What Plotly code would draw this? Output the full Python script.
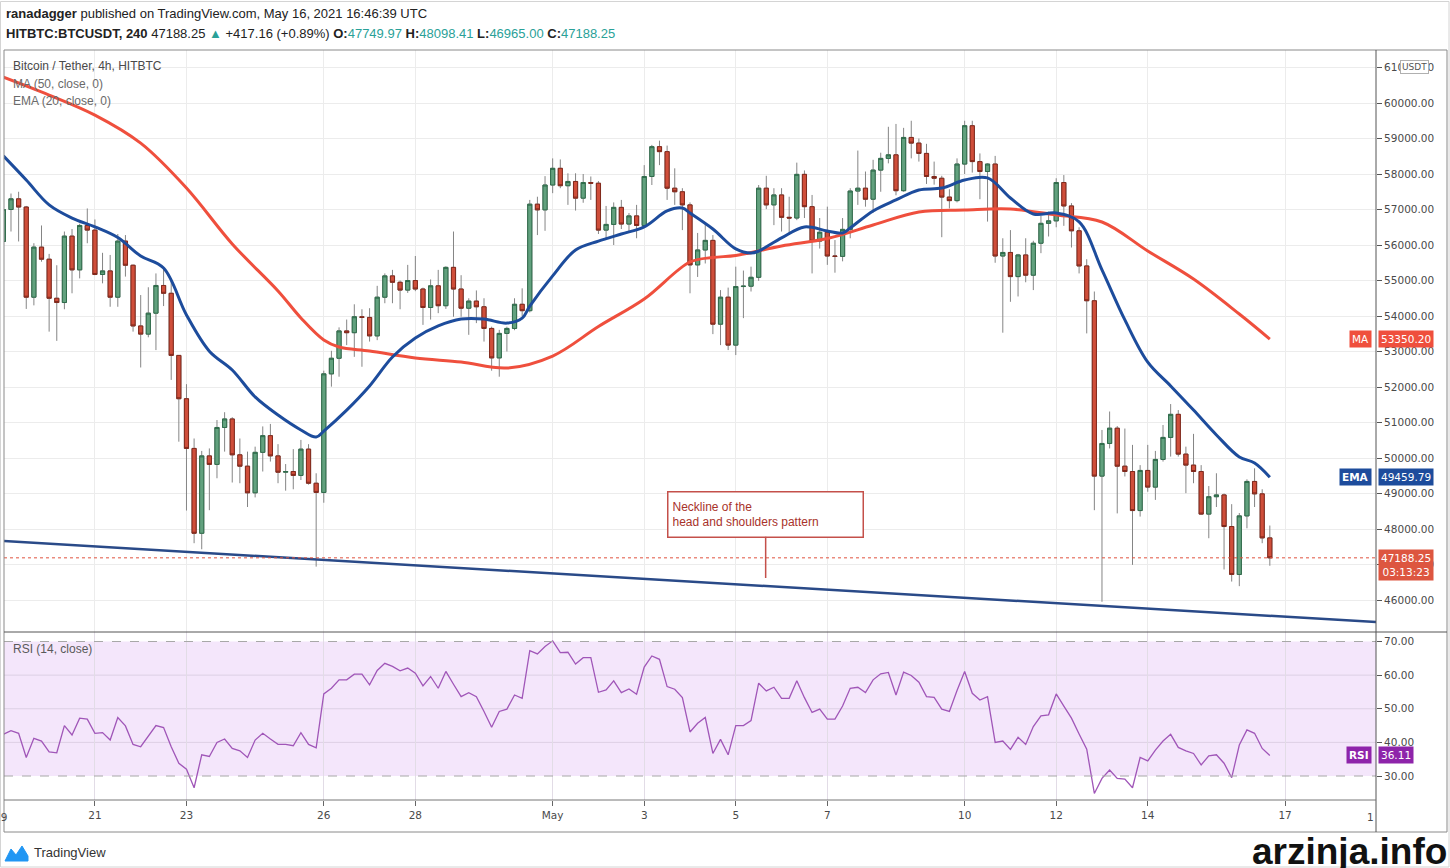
import pandas as pd
import plotly.graph_objects as go

# 4h candles of HITBTC:BTCUSDT, first candle 19 Apr 2021 00:00 UTC
first_candle = "2021-04-19 00:00"

opens = [56100, 57000, 57300, 57070, 54530, 55940, 55600, 54500, 54380, 56250,
         55300, 56550, 56420, 55170, 55270, 54530, 56110, 55430, 53720, 53490,
         54080, 54860, 54640, 52890, 51670, 50270, 47880, 50060, 49820, 50860,
         51100, 50090, 49770, 49020, 50160, 50630, 50060, 49600, 49620, 49510,
         50250, 49290, 49030, 52370, 52810, 53580, 53530, 53980, 53960, 53440,
         54530, 55130, 54950, 54730, 55000, 54760, 54240, 54850, 54290, 55370,
         54760, 54220, 54420, 54260, 53650, 52820, 53510, 53650, 54330, 54150,
         57150, 56990, 57690, 58160, 57670, 57790, 57320, 57760, 57740, 56420,
         56580, 57060, 56590, 56820, 56550, 57930, 58770, 58630, 57600, 57500,
         57130, 55440, 55860, 56130, 53770, 54530, 53180, 54830, 54840, 55090,
         57600, 57130, 57410, 56780, 56760, 57990, 57080, 56110, 56360, 55690,
         55680, 56440, 57520, 57600, 57290, 58110, 58440, 58540, 57530, 59030,
         58870, 58580, 57930, 57880, 57350, 57250, 58280, 59360, 58350, 58070,
         58280, 55690, 55790, 55110, 55720, 55150, 56050, 56610, 56680, 57760,
         57100, 56400, 55410, 54430, 49490, 50410, 50840, 49770, 49620, 48520,
         49650, 49180, 49960, 50580, 51230, 50110, 49800, 49620, 48420, 48910,
         48960, 48070, 46720, 48370, 49340, 48990, 47749.97]

highs = [57300, 57450, 57500, 57100, 56050, 56550, 55750, 55430, 56380, 56450,
         56600, 57030, 56720, 55780, 55720, 56310, 56280, 55450, 54590, 54810,
         55200, 55340, 55070, 52900, 52080, 50550, 50200, 50270, 51070, 51290,
         51150, 50550, 50180, 50320, 50890, 50960, 50390, 49830, 50250, 50510,
         50390, 49570, 52460, 53020, 53680, 53900, 54330, 54190, 54220, 54850,
         55200, 55300, 55000, 55440, 55690, 54800, 55030, 55300, 55400, 56380,
         55150, 54500, 54720, 54500, 53700, 53610, 53700, 54500, 54780, 57270,
         57360, 57940, 58440, 58410, 58020, 58020, 58000, 57930, 57800, 57100,
         57200, 57270, 56900, 57130, 58250, 58820, 58940, 58800, 58160, 57600,
         57200, 56340, 56610, 56280, 54730, 54800, 55390, 55280, 55390, 57690,
         57950, 57600, 57600, 57360, 58320, 58100, 57410, 56760, 57080, 56140,
         56760, 57600, 58660, 58070, 58400, 58600, 59330, 59410, 59300, 59500,
         59000, 58850, 58350, 57950, 57570, 58440, 59500, 59500, 58580, 58300,
         58510, 56190, 56420, 55750, 56190, 56120, 56820, 56940, 57880, 57970,
         57180, 56500, 55600, 54690, 50790, 51310, 50900, 50830, 50370, 49800,
         50370, 50200, 50930, 51520, 51350, 50320, 50680, 49800, 49210, 49570,
         49000, 48700, 48450, 49400, 49710, 49120, 48098.41]

lows = [55600, 56380, 56100, 54200, 54300, 55530, 53560, 53300, 54190, 54640,
        55060, 56050, 55150, 54920, 54260, 54260, 55110, 53560, 52550, 53400,
        53040, 54280, 52200, 50460, 48520, 47600, 47430, 48530, 49430, 50180,
        49310, 49290, 48620, 48890, 49620, 49900, 49290, 49080, 49120, 49380,
        49250, 46940, 48740, 52010, 52290, 53180, 52850, 52570, 53280, 53320,
        54360, 54360, 54190, 54650, 54700, 53750, 53900, 54080, 54200, 53980,
        53980, 53470, 53800, 53280, 52460, 52290, 53000, 53600, 54000, 54100,
        56280, 56400, 57460, 57600, 57130, 56970, 57190, 57270, 56310, 56190,
        56000, 56450, 56380, 56190, 56500, 57690, 58250, 57270, 57130, 56420,
        54640, 55100, 55480, 53490, 53180, 53040, 52900, 53940, 54690, 54990,
        57010, 56560, 56380, 56330, 56700, 56760, 55200, 55900, 55440, 55220,
        55540, 56190, 57130, 57080, 56910, 57500, 58300, 57400, 57500, 58440,
        58350, 57720, 57700, 56220, 57030, 57200, 58000, 58040, 57290, 56660,
        55500, 53530, 54400, 54550, 54950, 54730, 55770, 56240, 56500, 56540,
        55930, 55200, 53510, 48530, 45950, 50270, 48440, 49480, 46990, 48350,
        49050, 48820, 49900, 50040, 50040, 49010, 49290, 48400, 47740, 48620,
        46860, 46520, 46390, 48020, 48620, 47600, 46965.00]

closes = [57000, 57300, 57070, 54530, 55940, 55600, 54500, 54380, 56250, 55300,
          56550, 56420, 55170, 55270, 54530, 56110, 55430, 53720, 53490, 54080,
          54860, 54640, 52890, 51670, 50270, 47880, 50060, 49820, 50860, 51100,
          50090, 49770, 49020, 50160, 50630, 50060, 49600, 49620, 49510, 50250,
          49290, 49030, 52370, 52810, 53580, 53530, 53980, 53960, 53440, 54530,
          55130, 54950, 54730, 55000, 54760, 54240, 54850, 54290, 55370, 54760,
          54220, 54420, 54260, 53650, 52820, 53510, 53650, 54330, 54150, 57150,
          56990, 57690, 58160, 57670, 57790, 57320, 57760, 57740, 56420, 56580,
          57060, 56590, 56820, 56550, 57930, 58770, 58630, 57600, 57500, 57130,
          55440, 55860, 56130, 53770, 54530, 53180, 54830, 54840, 55090, 57600,
          57130, 57410, 56780, 56760, 57990, 57080, 56110, 56360, 55690, 55680,
          56440, 57520, 57600, 57290, 58110, 58440, 58540, 57530, 59030, 58870,
          58580, 57930, 57880, 57350, 57250, 58280, 59360, 58350, 58070, 58280,
          55690, 55790, 55110, 55720, 55150, 56050, 56610, 56680, 57760, 57100,
          56400, 55410, 54430, 49490, 50410, 50840, 49770, 49620, 48520, 49650,
          49180, 49960, 50580, 51230, 50110, 49800, 49620, 48420, 48910, 48960,
          48070, 46720, 48370, 49340, 48990, 47750, 47188.25]

# RSI(14, close), one value per candle
rsi = [42.4, 43.5, 42.7, 35.5, 41.2, 40.4, 37.2, 36.9, 45.0, 42.2,
       47.2, 46.9, 42.7, 42.9, 40.7, 47.4, 44.9, 39.4, 38.7, 41.9,
       45.0, 44.4, 38.7, 33.8, 32.0, 26.5, 36.3, 35.8, 40.0, 41.0,
       38.2, 37.5, 35.5, 40.7, 42.7, 41.0, 39.4, 39.4, 39.0, 42.9,
       39.4, 38.4, 54.4, 56.1, 58.6, 58.6, 60.3, 60.3, 57.1, 61.4,
       63.5, 62.6, 61.3, 62.1, 60.6, 56.8, 59.6, 56.1, 61.1, 57.3,
       53.6, 54.8, 53.6, 49.2, 44.5, 49.2, 49.9, 54.1, 53.1, 67.3,
       66.3, 68.5, 70.2, 66.7, 66.8, 63.3, 65.2, 65.2, 54.9, 55.6,
       58.3, 54.8, 55.9, 54.3, 62.4, 65.7, 64.7, 56.6, 55.8, 53.3,
       43.1, 45.7, 47.4, 36.7, 40.9, 36.3, 45.0, 45.0, 46.5, 57.6,
       55.3, 56.4, 53.1, 53.1, 58.3, 53.3, 48.9, 49.9, 46.9, 46.9,
       50.8, 56.1, 56.4, 54.8, 58.6, 60.4, 60.8, 54.1, 60.9, 59.9,
       57.9, 53.6, 53.4, 49.9, 49.2, 55.4, 61.1, 54.6, 52.6, 53.6,
       40.0, 40.4, 37.9, 41.5, 39.4, 44.7, 47.9, 48.2, 54.4, 50.8,
       47.2, 42.5, 38.0, 24.8, 29.3, 31.8, 29.3, 29.1, 26.5, 35.5,
       34.5, 37.7, 40.4, 42.4, 38.5, 37.5, 36.7, 33.3, 36.0, 36.3,
       33.8, 29.5, 39.2, 43.7, 42.7, 38.2, 36.11]

# MA(50) and EMA(20) at these candle numbers
ma_idx = [0, 6, 12, 18, 24, 30, 36, 39, 42, 44, 48, 54, 60, 66, 72, 78, 84, 90,
          93, 96, 102, 108, 114, 120, 126, 132, 138, 144, 150, 156, 162, 166]
ma_vals = [60730, 60225, 59660, 58870, 57605, 56030, 54705, 53945, 53325, 53127,
           53014, 52817, 52704, 52535, 52873, 53704, 54479, 55521, 55648, 55704,
           55972, 56183, 56563, 56930, 56986, 57014, 56845, 56648, 55831, 55042,
           54056, 53350.20]

ema_idx = [0, 3, 6, 9, 12, 15, 18, 21, 24, 27, 30, 33, 36, 39, 41, 42, 45, 48,
           51, 54, 57, 60, 63, 66, 68, 69, 72, 75, 78, 81, 84, 87, 89, 90, 93,
           96, 98, 99, 102, 105, 108, 110, 111, 114, 117, 120, 123, 126, 129,
           132, 135, 138, 141, 144, 147, 150, 153, 156, 159, 162, 164, 166]
ema_vals = [58510, 57830, 57130, 56760, 56510, 56210, 55690, 55350, 54030, 53010,
            52480, 51720, 51210, 50790, 50590, 50760, 51350, 52030, 52845, 53380,
            53720, 53915, 53915, 53800, 53940, 54280, 55130, 55860, 56110, 56310,
            56510, 56960, 57040, 56900, 56450, 55890, 55775, 55830, 56200, 56510,
            56395, 56340, 56480, 56960, 57270, 57550, 57605, 57830, 57890, 57325,
            56875, 56900, 56650, 55300, 53890, 52700, 52030, 51350, 50650, 50030,
            49860, 49459.79]

# hand-drawn neckline and its note
neck_dates = ["2021-04-19 00:20", "2021-05-18 23:40"]
neck_prices = [47660, 45380]
note_date = "2021-05-05 15:40"
note_price = 46620

tick_dates = ["2021-04-21", "2021-04-23", "2021-04-26", "2021-04-28", "2021-05-01",
              "2021-05-03", "2021-05-05", "2021-05-07", "2021-05-10", "2021-05-12",
              "2021-05-14", "2021-05-17"]
tick_labels = ["21", "23", "26", "28", "May", "3", "5", "7", "10", "12", "14", "17"]
price_ticks = list(range(46000, 61001, 1000))
rsi_ticks = [30, 40, 50, 60, 70]

times = pd.date_range(first_candle, periods=len(closes), freq="4h")

W, H = 1450, 868
def px(x):
    return x / W
def py(y):
    return 1 - y / H

x_range = ["2021-04-19 00:20", "2021-05-18 23:40"]
up_fill, up_line = "#62a17e", "#2f6c4b"
down_fill, down_line = "#cf4e3a", "#82291c"
wick = "#858585"
axis_font = dict(family="DejaVu Sans", size=10.5, color="#4a4a4a")

fig = go.Figure()

# wicks in grey, then the bodies again with a darker outline
fig.add_trace(go.Candlestick(
    x=times, open=opens, high=highs, low=lows, close=closes,
    increasing=dict(fillcolor=up_fill, line=dict(color=wick, width=1)),
    decreasing=dict(fillcolor=down_fill, line=dict(color=wick, width=1)),
    whiskerwidth=0, hoverinfo="skip"))
body_top = [max(o, c) for o, c in zip(opens, closes)]
body_bot = [min(o, c) for o, c in zip(opens, closes)]
fig.add_trace(go.Candlestick(
    x=times, open=opens, high=body_top, low=body_bot, close=closes,
    increasing=dict(fillcolor=up_fill, line=dict(color=up_line, width=1)),
    decreasing=dict(fillcolor=down_fill, line=dict(color=down_line, width=1)),
    whiskerwidth=0, name="BTCUSDT"))

fig.add_trace(go.Scatter(x=[times[i] for i in ma_idx], y=ma_vals, mode="lines",
                         line=dict(color="#ef4f3d", width=3, shape="spline"), name="MA"))
fig.add_trace(go.Scatter(x=[times[i] for i in ema_idx], y=ema_vals, mode="lines",
                         line=dict(color="#1d4c9c", width=3, shape="spline"), name="EMA"))
fig.add_trace(go.Scatter(x=neck_dates, y=neck_prices, mode="lines",
                         line=dict(color="#2a4a88", width=2.5), name="neckline"))

fig.add_trace(go.Scatter(x=times, y=rsi, mode="lines", xaxis="x2", yaxis="y2",
                         line=dict(color="#a056b8", width=1.3), name="RSI"))

shapes = []
# RSI band and its levels
shapes.append(dict(type="rect", xref="paper", yref="y2", x0=px(4), x1=px(1376), y0=30, y1=70,
                   fillcolor="#f4e6fb", line=dict(width=0), layer="below"))
for lvl in [40, 50, 60]:
    shapes.append(dict(type="line", xref="paper", yref="y2", x0=px(4), x1=px(1376), y0=lvl, y1=lvl,
                       line=dict(color="#ddd0e4", width=1), layer="below"))
for lvl in [30, 70]:
    shapes.append(dict(type="line", xref="paper", yref="y2", x0=px(4), x1=px(1376), y0=lvl, y1=lvl,
                       line=dict(color="#a8a8a8", width=1, dash="dash")))
# last price dotted line
shapes.append(dict(type="line", xref="paper", yref="y", x0=px(4), x1=px(1376),
                   y0=closes[-1], y1=closes[-1], line=dict(color="#e0533f", width=1, dash="dot")))
# frame
shapes.append(dict(type="rect", xref="paper", yref="paper", x0=px(4), x1=px(1447), y0=py(832), y1=py(50),
                   line=dict(color="#8a8a8a", width=1)))
shapes.append(dict(type="line", xref="paper", yref="paper", x0=px(1376), x1=px(1376), y0=py(832), y1=py(50),
                   line=dict(color="#555555", width=1)))
shapes.append(dict(type="line", xref="paper", yref="paper", x0=px(4), x1=px(1447), y0=py(632), y1=py(632),
                   line=dict(color="#555555", width=1)))
shapes.append(dict(type="line", xref="paper", yref="paper", x0=px(4), x1=px(1376), y0=py(800), y1=py(800),
                   line=dict(color="#777777", width=1)))
shapes.append(dict(type="rect", xref="paper", yref="paper", x0=px(0.5), x1=px(1449), y0=py(867), y1=py(1.5),
                   line=dict(color="#d4d4d4", width=1)))
# TradingView logo mark
logo = [(5, 861), (11, 849), (16, 855), (22, 846), (28, 856), (28, 861)]
path = "M " + " L ".join(f"{px(a):.5f},{py(b):.5f}" for a, b in logo) + " Z"
shapes.append(dict(type="path", xref="paper", yref="paper", path=path,
                   fillcolor="#2196f3", line=dict(color="#2196f3", width=1)))

teal = "#2aa198"
annotations = [
    dict(x=px(4), y=py(14), text="<b>ranadagger</b> published on TradingView.com, May 16, 2021 16:46:39 UTC",
         font=dict(family="Liberation Sans", size=13, color="#222")),
    dict(x=px(4), y=py(33),
         text=("<b>HITBTC:BTCUSDT, 240</b> 47188.25 <span style='color:%s'>▲</span> +417.16 (+0.89%%) "
               "<b>O:</b><span style='color:%s'>47749.97</span> <b>H:</b><span style='color:%s'>48098.41</span> "
               "<b>L:</b><span style='color:%s'>46965.00</span> <b>C:</b><span style='color:%s'>47188.25</span>")
              % (teal, teal, teal, teal, teal),
         font=dict(family="Liberation Sans", size=13, color="#222")),
    dict(x=px(11), y=py(66), text="Bitcoin / Tether, 4h, HITBTC",
         font=dict(family="Liberation Sans", size=12, color="#4a4a4a")),
    dict(x=px(11), y=py(84), text="MA (50, close, 0)",
         font=dict(family="Liberation Sans", size=12, color="#6a6a6a")),
    dict(x=px(11), y=py(101), text="EMA (20, close, 0)",
         font=dict(family="Liberation Sans", size=12, color="#6a6a6a")),
    dict(x=px(11), y=py(649), text="RSI (14, close)",
         font=dict(family="Liberation Sans", size=12, color="#5a5a5a")),
    dict(x=px(32), y=py(852), text="TradingView",
         font=dict(family="Liberation Sans", size=13, color="#333")),
    dict(x=px(1349), y=py(851), xanchor="center", text="<b>arzinja.info</b>",
         font=dict(family="Liberation Sans", size=37, color="#111")),
    dict(x=px(1414), y=py(67), xanchor="center", text="USDT", bgcolor="white",
         bordercolor="#b0b0b0", borderwidth=1, borderpad=1,
         font=dict(family="DejaVu Sans", size=9, color="#555")),
    # day labels cut by the panel edges
    dict(x=px(0), y=py(817), xanchor="center", text="19", font=axis_font),
    dict(x=px(1376), y=py(817), xanchor="right", text="1", font=axis_font),
]
for a in annotations:
    a.setdefault("xref", "paper")
    a.setdefault("yref", "paper")
    a.setdefault("xanchor", "left")
    a.setdefault("yanchor", "middle")
    a["showarrow"] = False

# value tags on the right scale
def tag(yref, value, text, color, x, anchor, yanchor="middle", yshift=0):
    return dict(xref="paper", yref=yref, x=px(x), y=value, text=text, xanchor=anchor,
                yanchor=yanchor, yshift=yshift, showarrow=False, bgcolor=color, borderpad=2,
                font=dict(family="DejaVu Sans", size=10.5, color="white"))

annotations += [
    tag("y", ma_vals[-1], "MA", "#ef4f3d", 1372, "right"),
    tag("y", ma_vals[-1], f"{ma_vals[-1]:.2f}", "#ef4f3d", 1378, "left"),
    tag("y", ema_vals[-1], "<b>EMA</b>", "#1d4c9c", 1372, "right"),
    tag("y", ema_vals[-1], f"{ema_vals[-1]:.2f}", "#1d4c9c", 1378, "left"),
    tag("y", closes[-1], f"{closes[-1]:.2f}<br>03:13:23", "#dd5640", 1378, "left", "top", 9),
    tag("y2", rsi[-1], "<b>RSI</b>", "#8e24aa", 1372, "right"),
    tag("y2", rsi[-1], f"{rsi[-1]:.2f}", "#8e24aa", 1378, "left"),
]

annotations.append(dict(
    xref="x", yref="y", x=note_date, y=note_price,
    text="Neckline of the<br>head and shoulders pattern", align="left",
    showarrow=True, arrowhead=0, arrowwidth=1.5, arrowcolor="#c4504a", ax=0, ay=-64,
    bgcolor="white", bordercolor="#c4504a", borderwidth=1.5, borderpad=4, width=186, height=36,
    font=dict(family="Liberation Sans", size=12, color="#a8322a")))

fig.update_layout(
    template="none",
    width=W, height=H,
    margin=dict(l=0, r=0, t=0, b=0),
    paper_bgcolor="white", plot_bgcolor="white",
    showlegend=False,
    boxgap=0.22,
    xaxis=dict(domain=[px(4), px(1376)], range=x_range, anchor="y",
               tickvals=tick_dates, showticklabels=False, ticks="",
               showgrid=True, gridcolor="#ececec", zeroline=False, showline=False,
               rangeslider=dict(visible=False)),
    yaxis=dict(domain=[py(632), py(50)], range=[45099, 61493], side="right", anchor="x",
               tickvals=price_ticks, tickformat=".2f", ticks="outside", ticklen=5,
               tickcolor="#555", tickfont=axis_font, showgrid=True, gridcolor="#ececec",
               zeroline=False, showline=False, automargin=False),
    xaxis2=dict(domain=[px(4), px(1376)], range=x_range, anchor="y2", matches="x",
                tickvals=tick_dates, ticktext=tick_labels, ticks="outside", ticklen=5,
                tickcolor="#666", tickfont=axis_font, showgrid=True, gridcolor="#e2dce6",
                zeroline=False, showline=False, automargin=False),
    yaxis2=dict(domain=[py(800), py(632)], range=[22.86, 72.83], side="right", anchor="x2",
                tickvals=rsi_ticks, tickformat=".2f", ticks="outside", ticklen=5,
                tickcolor="#555", tickfont=axis_font, showgrid=False,
                zeroline=False, showline=False, automargin=False),
    shapes=shapes,
    annotations=annotations,
)

# the page body keeps its default 8px margin otherwise
fig.write_html("out.html", config={"displayModeBar": False},
               post_script="document.body.style.margin='0px'; document.body.style.overflow='hidden';")
